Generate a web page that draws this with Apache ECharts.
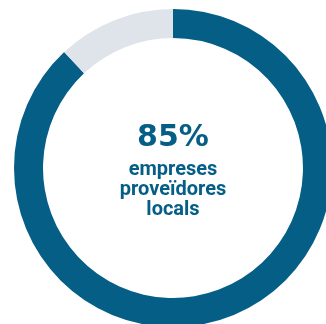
<!DOCTYPE html>
<html>
<head>
<meta charset="utf-8">
<script src="https://cdn.jsdelivr.net/npm/echarts@6/dist/echarts.min.js"></script>
<style>
  html, body { margin: 0; padding: 0; background: #fff; }
  #chart { width: 326px; height: 324px; }
</style>
</head>
<body>
<div id="chart"></div>
<script>
// share of local supplier companies (ring as drawn)
const labels = ["locals", "altres"];
const values = [88, 12];
const colors = ["#045e86", "#dfe3ea"];
const mainText = "85%";
const subLines = ["empreses", "proveïdores", "locals"];

const myChart = echarts.init(document.getElementById("chart"));
const option = {
  animation: false,
  graphic: [
    {
      type: "text",
      x: 173,
      y: 138,
      style: {
        text: mainText,
        align: "center",
        verticalAlign: "middle",
        fill: "#045e86",
        font: "bold 30px 'DejaVu Sans'",
      },
    },
    {
      type: "text",
      x: 173,
      y: 160,
      style: {
        text: subLines.join("\n"),
        align: "center",
        verticalAlign: "top",
        fill: "#045e86",
        font: "bold 20px Roboto",
        lineHeight: 20,
      },
    },
  ],
  series: [
    {
      type: "pie",
      center: [173, 168],
      radius: [130, 159],
      startAngle: 90,
      clockwise: true,
      label: { show: false },
      labelLine: { show: false },
      emphasis: { disabled: true },
      data: labels.map((n, i) => ({
        name: n,
        value: values[i],
        itemStyle: { color: colors[i] },
      })),
    },
  ],
};
myChart.setOption(option);
</script>
</body>
</html>
